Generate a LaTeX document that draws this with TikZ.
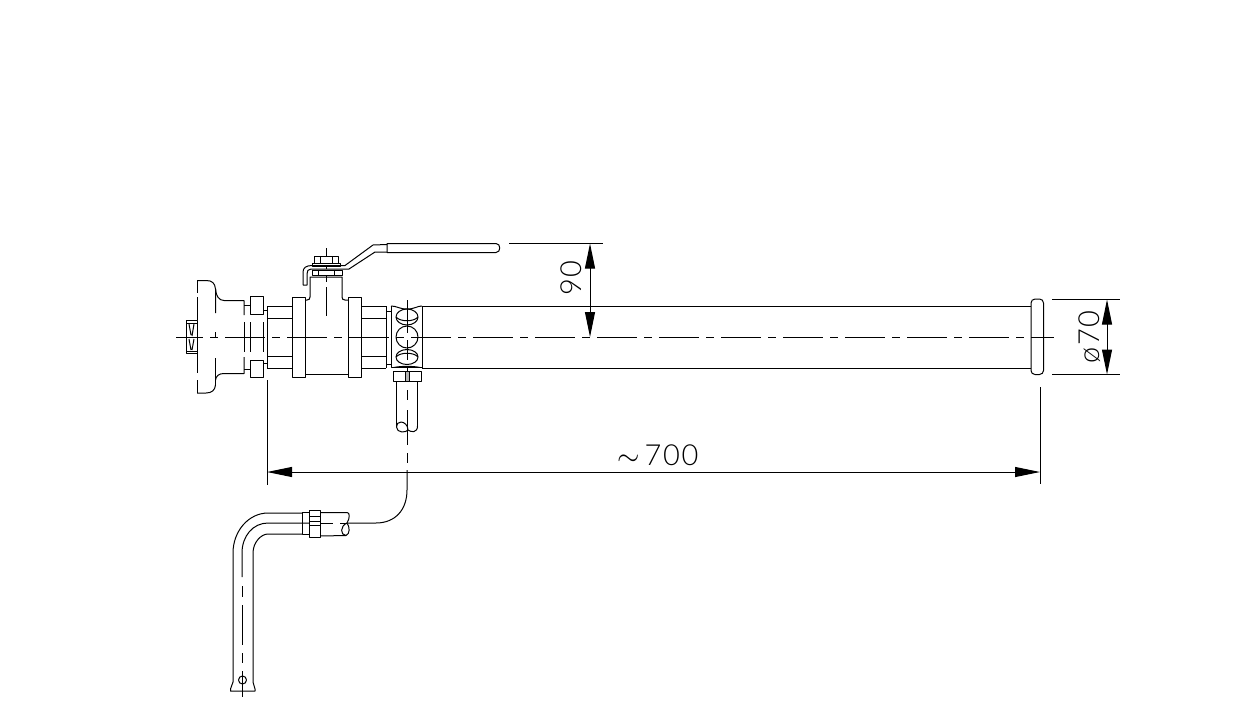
\documentclass[tikz,border=0pt]{standalone}
\usepackage{fontspec}
\setmainfont{Lato Light}[LetterSpace=6]
\usetikzlibrary{arrows.meta}
\tikzset{
  axisline/.style={line width=.5pt,dash pattern=on 20pt off 3.5pt on 4pt off 3.5pt},
  dimline/.style={line width=.5pt,{Triangle[length=12.5pt,width=5pt]}-{Triangle[length=12.5pt,width=5pt]}},
  dimtext/.style={inner sep=0pt,font=\fontsize{14.5}{14.5}\selectfont}
}
\begin{document}
\begin{tikzpicture}[x=.5pt,y=-.5pt,line width=.5pt,line join=round]
    \useasboundingbox (0,0) rectangle (1240,712);
    % centre lines
    \draw[axisline,dash phase=6.5pt] (176,337) -- (1054,337);
    \draw (326,248) -- (326,257);
    \draw (326,266) -- (326,269);
    \draw (326,275) -- (326,282);
    \draw (326,287) -- (326,316);
    \draw (407,300) -- (407,333);
    \draw (407,340) -- (407,360);
    \draw (407,366) -- (407,381);
    \draw (407,390) -- (407,400);
    \draw (407,410) -- (407,445);
    \draw (407,453) -- (407,463);
    % flange
    \draw (197,280) -- (197,293) (197,297) -- (197,320) (197,353) -- (197,373) (197,380) -- (197,393);
    \draw (197,280.5) -- (206,280.5) .. controls (212,280.5) and (215,283) .. (215.5,289) -- (215.5,313);
    \draw (215.5,332) -- (215.5,338) (215.5,358) -- (215.5,385);
    \draw (215.5,289) .. controls (216,296) and (219,300.5) .. (224,300.5) -- (244,300.5) -- (244,315);
    \draw (197,393) -- (206,393) .. controls (212,393) and (215,390) .. (215.5,385);
    \draw (215.5,380) .. controls (216,376) and (219,373.5) .. (224,373.5) -- (244,373.5) -- (244,357);
    \draw (244,322) -- (244,352);
    \draw (250,322) -- (250,352) (263.5,322) -- (263.5,352);
    % coupling at the flange
    \draw (186.5,320.5) rectangle (197,353);
    \draw (186.5,323) -- (197,323) (186.5,351) -- (197,351);
    \draw (189,324) -- (191,335) (194,324) -- (192,336) (189,339) -- (191,350) (194,339) -- (192,350);
    % nuts
    \draw (250,296.5) rectangle (263.5,314);
    \draw (250,360) rectangle (263.5,377);
    \draw (244,305) -- (250,305) (244,369) -- (250,369);
    \draw (263.5,310) -- (267,310) (263.5,363) -- (267,363);
    \draw (267,306) -- (267,368);
    \draw (267,306) -- (292,306) (267,318) -- (292,318) (267,356) -- (292,356) (267,368) -- (292,368);
    % valve body
    \draw (292,297) rectangle (305,377);
    \draw (348,297) rectangle (361,377);
    \draw (305,300) -- (307,300) .. controls (309,300) and (310,299) .. (310,297) -- (310,277) -- (342,277) -- (342,297) .. controls (342,299) and (343,300) .. (345,300) -- (348,300);
    \draw (305,374.5) -- (348,374.5);
    \draw (361,306) -- (386,306) (361,318) -- (386,318) (361,356) -- (386,356) (361,368) -- (386,368);
    \draw (386,306) -- (386,368);
    \draw (386,311) -- (391,311) (386,364) -- (391,364);
    % lever
    \draw (314,256.5) rectangle (338,263.5);
    \draw (320,256.5) -- (320,263.5) (332,256.5) -- (332,263.5);
    \draw (312,263.5) rectangle (340,266);
    \draw (312,270) rectangle (342,275);
    \draw (318,270) -- (318,275) (334,270) -- (334,275);
    \draw (387,244.5) -- (373,245) -- (345,265.5) -- (312,265.5) .. controls (306,265.5) and (303,268) .. (303,272) -- (303,285) -- (307,285) -- (307,274) .. controls (307,271) and (308,269) .. (311,269) -- (349,269) -- (375,252) -- (387,252);
    \draw (387,243.5) -- (496,243.5) .. controls (501,243.5) and (501,252.5) .. (496,252.5) -- (387,252.5) -- cycle;
    % manifold block
    \draw (391,311) -- (391,367.5) -- (422,367.5) (422,306) -- (422,367.5);
    \draw (391,306) .. controls (397,306) and (399,309) .. (407,309) .. controls (415,309) and (417,306) .. (422,306);
    \draw (391,306) -- (391,311);
    \draw (407,317) ellipse (11 and 8);
    \draw (396,317) .. controls (400,322) and (414,322) .. (418,317);
    \draw (407,337) circle (11);
    \draw (407,357) ellipse (11 and 7.5);
    \draw (396,357) .. controls (400,352) and (414,352) .. (418,357);
    % lower nut and branch
    \draw (394,367.5) .. controls (400,366) and (414,366) .. (420,367.5);
    \draw (393,371) rectangle (421,381);
    \draw[fill=gray!60] (405,371) rectangle (409,381);
    \draw (396.5,381) -- (396.5,427) (417.5,381) -- (417.5,426);
    \draw (396.5,427) .. controls (396.5,433) and (406,433) .. (408,430) .. controls (408,425) and (404,422) .. (401,422) .. controls (398,422) and (396.5,424) .. (396.5,427);
    \draw (408,430) .. controls (411,432.5) and (417.5,433) .. (417.5,426);
    % main tube and end cap
    \draw (422,306) -- (1031,306) (422,368) -- (1031,368);
    \draw[rounded corners=2pt] (1031,299) rectangle (1043.5,374.5);
    % tail piece
    \draw (407,470) -- (407,490) .. controls (407,510) and (395,523) .. (376,523) -- (348,523);
    \draw (302,512.5) rectangle (309.5,534);
    \draw (309.5,510) rectangle (320,537.5);
    \draw (309.5,516) -- (320,516) (309.5,525) -- (320,525);
    \draw (320,512.5) -- (347,512.5) .. controls (350,512.5) and (350,518) .. (347,523);
    \draw (347,523) .. controls (340,526) and (340,535) .. (346,535.5) .. controls (350,534) and (350,527) .. (347,523);
    \draw (346,535.5) -- (320,536);
    \draw (309.5,521.5) -- (320,521.5) (320,523) -- (333,523) (340,523) -- (346,523);
    \draw (302,513) -- (268,513) .. controls (248.7,513) and (233,531) .. (233,553) -- (233,682) -- (230.5,689) -- (230.5,691) -- (255,691) -- (255,689) -- (253,682) -- (253,553) .. controls (253,542.5) and (261,534) .. (268,534) -- (302,534);
    \draw (309,523) -- (268,523) .. controls (253,523) and (242,536) .. (242,553) -- (242,577);
    \draw (242,586) -- (242,597) (242,605) -- (242,645) (242,653) -- (242,663) (242,671) -- (242,697);
    \draw (242.5,680) circle (4);
    % dimensions
    \coordinate (top90) at (590,243.5);
    \coordinate (axis90) at (590,337);
    \draw (509,243.5) -- (602.5,243.5);
    \draw[dimline] (top90) -- (axis90);
    \node[dimtext,rotate=90] (label90) at (571.5,278) {90};
    \coordinate (top70) at (1107,299.5);
    \coordinate (bot70) at (1107,374.5);
    \draw (1052,299.5) -- (1120,299.5) (1052,374.5) -- (1120,374.5);
    \draw[dimline] (top70) -- (bot70);
    \node[dimtext,rotate=90] (label70) at (1090,337) {ø70};
    \coordinate (left700) at (267,472);
    \coordinate (right700) at (1040,472);
    \draw (267,380) -- (267,485) (1040,387) -- (1040,484);
    \draw[dimline] (left700) -- (right700);
    \node[dimtext] (label700) at (658,455) {$\sim$\,700};
\end{tikzpicture}
\end{document}
